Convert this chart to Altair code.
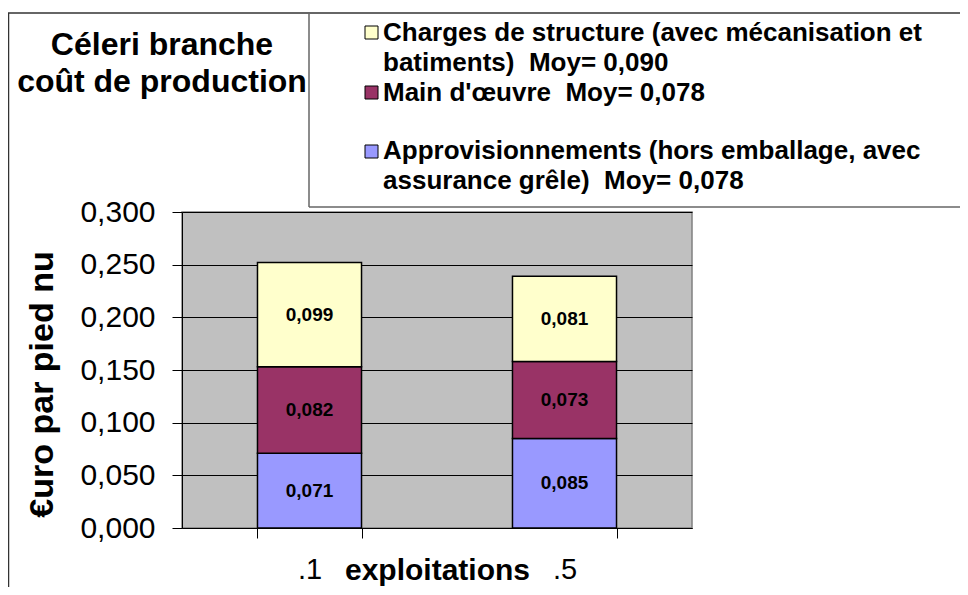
import altair as alt
import pandas as pd

FONT = "Liberation Sans"

# ---- data ----
exploitations = [".1", ".5"]
series = ["Approvisionnements", "Main d'œuvre", "Charges de structure"]
appro = [0.071, 0.085]
main_oeuvre = [0.082, 0.073]
charges = [0.099, 0.081]
colors = ["#9999FF", "#993366", "#FFFFCC"]
NB = "\u00a0"
legend_labels = [
    ["Approvisionnements (hors emballage, avec", "assurance grêle) " + NB + "Moy= 0,078"],
    ["Main d'œuvre " + NB + "Moy= 0,078"],
    ["Charges de structure (avec mécanisation et", "batiments) " + NB + "Moy= 0,090"],
]
title_lines = ["Céleri branche", "coût de production"]
y_ticks = [0.0, 0.05, 0.10, 0.15, 0.20, 0.25, 0.30]

rows = []
for i, e in enumerate(exploitations):
    for k, (s, vals) in enumerate(zip(series, [appro, main_oeuvre, charges])):
        rows.append({"exploitation": e, "serie": s, "ordre": k, "valeur": vals[i]})
df = pd.DataFrame(rows)

W, H = 510, 316
color_scale = alt.Scale(domain=series, range=colors)
x_scale = alt.Scale(paddingInner=0.592, paddingOuter=0.296)
y_scale = alt.Scale(domain=[0, 0.3], nice=False)

x_axis = alt.Axis(
    title="exploitations", titleFont=FONT, titleFontSize=30, titleFontWeight="bold",
    titleColor="black", titleX=255, titleY=51, titleBaseline="alphabetic", titleAlign="center",
    labelFont=FONT, labelFontSize=29, labelColor="black", labelAngle=0,
    labelBaseline="middle", labelPadding=31,
    tickBand="extent", tickSize=10, tickColor="black", domainColor="black", grid=False,
)
y_axis = alt.Axis(
    values=y_ticks, labelExpr="replace(format(datum.value, '.3f'), '.', ',')",
    labelFont=FONT, labelFontSize=30, labelColor="black", labelPadding=17,
    tickSize=10, tickColor="black", domainColor="black",
    grid=True, gridColor="black", gridWidth=1,
    title="€uro par pied nu", titleFont=FONT, titleFontSize=34, titleFontWeight="bold",
    titleColor="black", titleAngle=-90, titleX=-140, titleY=172,
    titleAlign="center", titleBaseline="middle",
)

bars = alt.Chart(df).mark_bar(stroke="black", strokeWidth=1.5).encode(
    x=alt.X("exploitation:N", sort=exploitations, scale=x_scale, axis=x_axis),
    y=alt.Y("valeur:Q", stack="zero", scale=y_scale, axis=y_axis),
    color=alt.Color("serie:N", scale=color_scale, legend=None),
    order=alt.Order("ordre:Q", sort="ascending"),
)

labels = alt.Chart(df).transform_stack(
    stack="valeur", groupby=["exploitation"], as_=["v0", "v1"],
    sort=[alt.SortField("ordre", order="ascending")],
).transform_calculate(
    mid="(datum.v0 + datum.v1) / 2",
    lab="replace(format(datum.valeur, '.3f'), '.', ',')",
).mark_text(font=FONT, fontSize=19, fontWeight="bold", color="black", baseline="middle").encode(
    x=alt.X("exploitation:N", sort=exploitations, scale=x_scale, axis=x_axis),
    y=alt.Y("mid:Q", scale=y_scale, axis=y_axis),
    text="lab:N",
)

one = pd.DataFrame({"k": [0]})


def rule(x, x2, y, y2, color):
    return alt.Chart(one).mark_rule(color=color, strokeWidth=1.5).encode(
        x=alt.value(x), x2=alt.value(x2), y=alt.value(y), y2=alt.value(y2)
    )


frame = [
    rule(-174, 800, -199, -199, "#333333"),
    rule(-173.5, -173.5, -199, 420, "#333333"),
    rule(127, 127, -199, -5, "#666666"),
    rule(127, 800, -5, -5, "#666666"),
]

title = alt.Chart(one).mark_text(
    font=FONT, fontSize=32, fontWeight="bold", color="black", align="center",
    baseline="alphabetic", lineHeight=37,
).encode(x=alt.value(-20), y=alt.value(-157), text=alt.value(title_lines))

# legend (top to bottom: Charges, Main d'oeuvre, Approvisionnements)
leg_sym_y = {2: -186, 1: -126, 0: -67}
leg_txt_y = {2: -171, 1: -111, 0: -53}
legend_layers = []
for k in [2, 1, 0]:
    sdf = pd.DataFrame({"serie": [series[k]]})
    legend_layers.append(
        alt.Chart(sdf).mark_rect(stroke="black", strokeWidth=1).encode(
            color=alt.Color("serie:N", scale=color_scale, legend=None),
            x=alt.value(183), x2=alt.value(196),
            y=alt.value(leg_sym_y[k]), y2=alt.value(leg_sym_y[k] + 13),
        )
    )
    legend_layers.append(
        alt.Chart(sdf).mark_text(
            font=FONT, fontSize=26, fontWeight="bold", color="black", align="left",
            baseline="alphabetic", lineHeight=30,
        ).encode(x=alt.value(201), y=alt.value(leg_txt_y[k]), text=alt.value(legend_labels[k]))
    )

chart = alt.layer(bars, labels, title, *frame, *legend_layers).properties(
    width=W, height=H,
    autosize=alt.AutoSizeParams(type="none"),
    padding={"left": 174, "top": 204, "right": 268, "bottom": 59},
).configure_view(fill="#C0C0C0", stroke="#808080", strokeWidth=1.5)

chart.save("out.html", embed_options={"renderer": "svg", "actions": False})
